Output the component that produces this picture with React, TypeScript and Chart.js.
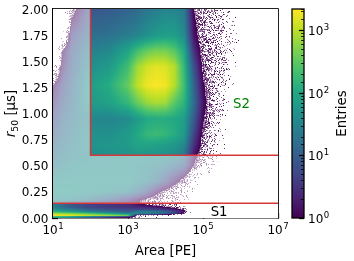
import React, { useEffect, useRef } from "react";
import { Chart, registerables } from "chart.js";

Chart.register(...registerables);

const FONT = "'DejaVu Sans'";
const xTicks = [1e1, 1e3, 1e5, 1e7];
const xTickExponents = ["1", "3", "5", "7"];
const yTicks = [0, 0.25, 0.5, 0.75, 1, 1.25, 1.5, 1.75, 2];
const cbExponents: Record<number, string> = { 1: "0", 10: "1", 100: "2", 1000: "3" };
const cbMax = 2190;

// heat map: log10(entries); below 0 = sparser than one entry per bin
const logAreaCols = [1, 1.25, 1.5, 2, 2.5, 3, 3.25, 3.5, 3.75, 4, 4.25, 4.5, 4.75, 5, 5.25, 5.5, 5.75, 6, 7];
const r50Rows = [2.0, 1.75, 1.6, 1.45, 1.27, 1.1, 0.95, 0.8, 0.7, 0.6, 0.5, 0.35, 0.25, 0.17, 0.14, 0.1, 0.08, 0.06, 0.04, 0.025, 0.01, 0];
const heat = [
  [-3, -3, -0.3, 0.9, 0.95, 1.05, 1.15, 1.3, 1.4, 1.5, 1.5, 1.35, 0, -0.35, -0.5, -0.7, -1.1, -2, -3],
  [-3, -1.5, 0.6, 1.2, 1.25, 1.4, 1.5, 1.65, 1.8, 1.85, 1.85, 1.6, 0.2, -0.3, -0.45, -0.65, -1.1, -2, -3],
  [-3, 0, 0.85, 1.45, 1.55, 1.95, 2.3, 2.55, 2.65, 2.65, 2.45, 2.0, 0.5, -0.25, -0.45, -0.65, -1.1, -2, -3],
  [-1.5, 0.3, 0.95, 1.65, 1.8, 2.3, 2.85, 3.1, 3.2, 3.15, 2.95, 2.2, 0.85, -0.1, -0.4, -0.6, -1.1, -2, -3],
  [0, 0.7, 1.1, 1.85, 2.05, 2.55, 3.0, 3.25, 3.32, 3.28, 2.95, 2.3, 1.1, 0.05, -0.35, -0.7, -1.3, -3, -3],
  [0.4, 0.9, 1.2, 1.8, 1.9, 2.2, 2.55, 2.8, 2.9, 2.85, 2.45, 2.15, 1.2, 0.2, -0.4, -0.9, -1.6, -3, -3],
  [0.7, 1.1, 1.3, 1.55, 1.5, 1.6, 1.8, 2.0, 2.05, 2.05, 2.0, 1.85, 1.0, 0.05, -0.5, -1, -3, -3, -3],
  [0.9, 1.2, 1.4, 1.65, 1.65, 1.8, 2.0, 2.2, 2.25, 2.2, 2.05, 1.8, 0.7, -0.1, -0.6, -1.2, -3, -3, -3],
  [1.1, 1.3, 1.45, 1.7, 1.75, 1.8, 1.95, 1.95, 1.9, 1.85, 1.75, 1.55, 0.5, -0.2, -0.7, -1.5, -3, -3, -3],
  [1.25, 1.4, 1.5, 1.6, 1.65, 1.7, 1.75, 1.7, 1.7, 1.65, 1.6, 1.35, 0.2, -0.35, -0.9, -1.6, -3, -3, -3],
  [1.4, 1.5, 1.6, 1.65, 1.65, 1.65, 1.6, 1.55, 1.5, 1.4, 1.2, 0.9, 0, -0.6, -1.3, -3, -3, -3, -3],
  [1.7, 1.7, 1.7, 1.7, 1.7, 1.7, 1.6, 1.5, 1.2, 0.8, 0.2, -0.3, -1, -2, -3, -3, -3, -3, -3],
  [1.75, 1.75, 1.75, 1.7, 1.6, 1.5, 1.2, 0.8, 0.2, -0.2, -0.5, -0.9, -1.6, -3, -3, -3, -3, -3, -3],
  [1.6, 1.6, 1.5, 1.3, 0.9, 0.4, 0.1, -0.2, -0.4, -0.5, -0.6, -1.2, -3, -3, -3, -3, -3, -3, -3],
  [1.5, 1.2, 0.9, 0.6, 0.5, 0.4, 0.1, -0.2, -0.4, -0.5, -0.7, -1.4, -3, -3, -3, -3, -3, -3, -3],
  [1.5, 1.2, 1.0, 0.7, 0.6, 0.5, 0.45, 0.4, 0.3, 0.1, -0.1, -0.5, -3, -3, -3, -3, -3, -3, -3],
  [1.8, 1.6, 1.4, 1.0, 0.85, 0.75, 0.75, 0.7, 0.65, 0.5, 0.3, -0.1, -3, -3, -3, -3, -3, -3, -3],
  [2.2, 2.05, 1.9, 1.5, 1.2, 1.0, 1.4, 1.5, 1.4, 1.2, 0.7, 0.2, -3, -3, -3, -3, -3, -3, -3],
  [3.0, 2.9, 2.8, 2.5, 2.1, 1.6, 1.5, 1.4, 1.2, 1.0, 0.5, -0.2, -3, -3, -3, -3, -3, -3, -3],
  [3.3, 3.3, 3.3, 3.1, 3.0, 2.7, -0.3, -0.5, -0.5, -0.8, -1, -3, -3, -3, -3, -3, -3, -3, -3],
  [2.0, 1.8, 1.6, 1.0, 0.5, 0.1, -0.5, -1, -1.5, -3, -3, -3, -3, -3, -3, -3, -3, -3, -3],
  [2.0, 1.8, 1.6, 1.0, 0.5, 0.1, -0.5, -1, -1.5, -3, -3, -3, -3, -3, -3, -3, -3, -3, -3],
];

const s2Outline = [{ x: 1e2, y: 2 }, { x: 1e2, y: 0.6 }, { x: 1e7, y: 0.6 }];
const s1Line = [{ x: 1e1, y: 0.14 }, { x: 1e7, y: 0.14 }];
const s2Label = { text: "S2", x: 6.3e5, y: 1.09, color: "#008000" };
const s1Label = { text: "S1", x: 1.6e5, y: 0.05, color: "#000000" };

const viridis = [
  [68, 1, 84], [72, 36, 117], [65, 68, 135], [53, 95, 141], [42, 120, 142], [33, 145, 140],
  [34, 168, 132], [68, 191, 112], [122, 209, 81], [189, 223, 38], [253, 231, 37],
];
function cmap(t: number) {
  const u = Math.max(0, Math.min(0.9999, t)) * 10;
  const i = Math.floor(u);
  const f = u - i;
  return [0, 1, 2].map((k) => viridis[i][k] + (viridis[i + 1][k] - viridis[i][k]) * f);
}
const logMax = Math.log10(cbMax);

function bracket(list: number[], v: number, descending: boolean) {
  for (let i = 0; i < list.length - 1; i++) {
    const a = list[i];
    const b = list[i + 1];
    if (descending ? v <= a && v >= b : v >= a && v <= b) return [i, (v - a) / (b - a)];
  }
  return descending ? (v > list[0] ? [0, 0] : [list.length - 2, 1]) : v < list[0] ? [0, 0] : [list.length - 2, 1];
}
// fixed stipple threshold used to draw densities under one entry per bin
function dither(x: number, y: number) {
  let h = Math.imul(x + 1, 374761393) ^ Math.imul(y + 1, 668265263);
  h = Math.imul(h ^ (h >>> 13), 1274126177);
  h ^= h >>> 16;
  return (h >>> 0) / 4294967296;
}

// "10" with a raised exponent, as real text
function drawPower(ctx: any, exp: string, x: number, baseline: number, align: "left" | "center") {
  ctx.textAlign = "left";
  ctx.textBaseline = "alphabetic";
  ctx.fillStyle = "#000";
  ctx.font = `12px ${FONT}`;
  const w1 = ctx.measureText("10").width;
  ctx.font = `8.6px ${FONT}`;
  const w2 = ctx.measureText(exp).width;
  const x0 = align === "center" ? x - (w1 + w2 + 0.5) / 2 : x;
  ctx.font = `12px ${FONT}`;
  ctx.fillText("10", x0, baseline);
  ctx.font = `8.6px ${FONT}`;
  ctx.fillText(exp, x0 + w1 + 0.5, baseline - 5);
}

const heatPlugin = {
  id: "heat",
  beforeDatasetsDraw(chart: any) {
    const { ctx, chartArea: a, scales } = chart;
    const w = Math.round(a.right - a.left);
    const h = Math.round(a.bottom - a.top);
    const img = ctx.createImageData(w, h);
    for (let py = 0; py < h; py++) {
      const [ri, rf] = bracket(r50Rows, scales.y.getValueForPixel(a.top + py + 0.5), true);
      for (let px = 0; px < w; px++) {
        const lx = Math.log10(scales.x.getValueForPixel(a.left + px + 0.5));
        const [ci, cf] = bracket(logAreaCols, lx, false);
        const v =
          heat[ri][ci] * (1 - rf) * (1 - cf) + heat[ri][ci + 1] * (1 - rf) * cf +
          heat[ri + 1][ci] * rf * (1 - cf) + heat[ri + 1][ci + 1] * rf * cf;
        const o = (py * w + px) * 4;
        const solid = v >= 0;
        const on = solid || (v > -2 && dither(px, py) < Math.pow(10, v * 0.9));
        if (on) {
          const c = cmap(Math.max(0, v) / logMax);
          img.data[o] = c[0];
          img.data[o + 1] = c[1];
          img.data[o + 2] = c[2];
          img.data[o + 3] = solid ? 255 : 80 + 175 * dither(py + 31, px + 7);
        }
      }
    }
    ctx.putImageData(img, Math.round(a.left), Math.round(a.top));
    // selection mask: everything above S1 and outside S2 is veiled
    const x2 = Math.round(scales.x.getPixelForValue(s2Outline[0].x));
    const y2 = Math.round(scales.y.getPixelForValue(s2Outline[1].y));
    const y1 = Math.round(scales.y.getPixelForValue(s1Line[0].y));
    ctx.save();
    ctx.fillStyle = "rgba(255,255,255,0.5)";
    ctx.fillRect(a.left, a.top, x2 - a.left, y1 - a.top);
    ctx.fillRect(x2, y2, a.right - x2, y1 - y2);
    ctx.restore();
  },
  afterDatasetsDraw(chart: any) {
    const { ctx, chartArea: a, scales } = chart;
    ctx.save();
    ctx.strokeStyle = "#222";
    ctx.lineWidth = 1;
    ctx.beginPath();
    ctx.moveTo(a.left, a.top - 0.5);
    ctx.lineTo(a.right + 0.5, a.top - 0.5);
    ctx.lineTo(a.right + 0.5, a.bottom);
    ctx.stroke();
    ctx.font = `13.3px ${FONT}`;
    ctx.textBaseline = "middle";
    for (const l of [s2Label, s1Label]) {
      ctx.fillStyle = l.color;
      ctx.fillText(l.text, scales.x.getPixelForValue(l.x), scales.y.getPixelForValue(l.y));
    }
    // tick labels
    ctx.font = `12px ${FONT}`;
    ctx.fillStyle = "#000";
    ctx.textAlign = "right";
    ctx.textBaseline = "alphabetic";
    for (const v of yTicks) {
      ctx.fillText(v.toFixed(2), 48.5, scales.y.getPixelForValue(v) + 4.5);
    }
    xTicks.forEach((v, i) => {
      drawPower(ctx, xTickExponents[i], scales.x.getPixelForValue(v), 234, "center");
    });
    // y axis title with italic r and subscript
    ctx.translate(11, (a.top + a.bottom) / 2);
    ctx.rotate(-Math.PI / 2);
    ctx.textAlign = "left";
    ctx.textBaseline = "alphabetic";
    ctx.fillStyle = "#000";
    const parts: [string, string][] = [
      ["r", `italic 13.3px ${FONT}`],
      ["50", `9.3px ${FONT}`],
      [" [μs]", `13.3px ${FONT}`],
    ];
    let total = 0;
    for (const p of parts) { ctx.font = p[1]; total += ctx.measureText(p[0]).width; }
    let x = -total / 2;
    parts.forEach((p, i) => {
      ctx.font = p[1];
      ctx.fillText(p[0], x, i === 1 ? 7 : 4);
      x += ctx.measureText(p[0]).width;
    });
    ctx.restore();
  },
};

const colorbarPlugin = {
  id: "colorbar",
  beforeDatasetsDraw(chart: any) {
    const { ctx, chartArea: a, scales } = chart;
    ctx.save();
    for (let py = a.top; py < a.bottom; py++) {
      const v = Math.log10(scales.y.getValueForPixel(py + 0.5));
      const c = cmap(v / logMax);
      ctx.fillStyle = `rgb(${c[0]},${c[1]},${c[2]})`;
      ctx.fillRect(a.left, py, a.right - a.left, 1);
    }
    ctx.restore();
  },
  afterDatasetsDraw(chart: any) {
    const { ctx, chartArea: a, scales } = chart;
    ctx.save();
    ctx.strokeStyle = "#000";
    ctx.lineWidth = 1.3;
    ctx.strokeRect(a.left, a.top, a.right - a.left, a.bottom - a.top);
    for (const t of scales.y.ticks) {
      const py = Math.round(scales.y.getPixelForValue(t.value)) + 0.5;
      const exp = cbExponents[t.value];
      const major = exp !== undefined;
      ctx.lineWidth = major ? 1.3 : 0.8;
      ctx.beginPath();
      ctx.moveTo(a.right, py);
      ctx.lineTo(a.right - (major ? 5 : 3), py);
      ctx.stroke();
      if (major) drawPower(ctx, exp, 308, scales.y.getPixelForValue(t.value) + 5, "left");
    }
    ctx.translate(343, (a.top + a.bottom) / 2);
    ctx.rotate(-Math.PI / 2);
    ctx.textAlign = "center";
    ctx.textBaseline = "middle";
    ctx.fillStyle = "#000";
    ctx.font = `13.3px ${FONT}`;
    ctx.fillText("Entries", 0, 0);
    ctx.restore();
  },
};

const noEdgePadding = (s: any) => {
  s.paddingTop = 0;
  s.paddingBottom = 0;
  s.paddingLeft = 0;
  s.paddingRight = 0;
};

export default function App() {
  const mainRef = useRef<HTMLCanvasElement>(null);
  const barRef = useRef<HTMLCanvasElement>(null);
  useEffect(() => {
    const lineStyle = { showLine: true, borderColor: "#d9363a", borderWidth: 1.5, pointRadius: 0, fill: false };
    const main = new Chart(mainRef.current!, {
      type: "scatter",
      data: {
        datasets: [
          { label: "S2", data: s2Outline, ...lineStyle },
          { label: "S1", data: s1Line, ...lineStyle },
        ],
      },
      plugins: [heatPlugin],
      options: {
        responsive: false,
        animation: false,
        layout: { padding: { left: 0, right: 76, top: 9, bottom: 0 } },
        plugins: { legend: { display: false }, tooltip: { enabled: false } },
        scales: {
          x: {
            type: "logarithmic",
            min: 1e1,
            max: 1e7,
            afterBuildTicks: (s: any) => { s.ticks = xTicks.map((value) => ({ value, major: true })); },
            afterFit: (s: any) => { s.height = 43; noEdgePadding(s); },
            ticks: { display: false, autoSkip: false, maxRotation: 0 },
            grid: { drawOnChartArea: false, tickLength: -5, tickColor: "#000", tickWidth: 1.3 },
            border: { color: "#000", width: 1.6 },
            title: { display: true, text: "Area [PE]", color: "#000", font: { family: FONT, size: 13.3 }, padding: { top: 0, bottom: 1 } },
          },
          y: {
            type: "linear",
            min: 0,
            max: 2,
            afterBuildTicks: (s: any) => { s.ticks = yTicks.map((value) => ({ value })); },
            afterFit: (s: any) => { s.width = 53; noEdgePadding(s); },
            ticks: { display: false, autoSkip: false },
            grid: { drawOnChartArea: false, tickLength: -5, tickColor: "#000", tickWidth: 1.3 },
            border: { color: "#000", width: 1.6 },
          },
        },
      },
    } as any);
    const bar = new Chart(barRef.current!, {
      type: "scatter",
      data: { datasets: [{ data: [] }] },
      plugins: [colorbarPlugin],
      options: {
        responsive: false,
        animation: false,
        layout: { padding: { left: 292, right: 0, top: 9, bottom: 43 } },
        plugins: { legend: { display: false }, tooltip: { enabled: false } },
        scales: {
          x: { display: false, min: 0, max: 1 },
          y: {
            type: "logarithmic",
            position: "right",
            min: 1,
            max: cbMax,
            afterFit: (s: any) => { s.width = 354 - 304; noEdgePadding(s); },
            ticks: { autoSkip: false, display: true, color: "rgba(0,0,0,0)", callback: () => "" },
            grid: { drawOnChartArea: false, drawTicks: false },
            border: { display: false },
          },
        },
      },
    } as any);
    return () => {
      main.destroy();
      bar.destroy();
    };
  }, []);
  const layer: React.CSSProperties = { position: "absolute", left: 0, top: 0, display: "block" };
  return (
    <div style={{ position: "fixed", left: 0, top: 0, width: 354, height: 261, background: "#fff" }}>
      <canvas ref={mainRef} width={354} height={261} style={layer} />
      <canvas ref={barRef} width={354} height={261} style={layer} />
    </div>
  );
}
